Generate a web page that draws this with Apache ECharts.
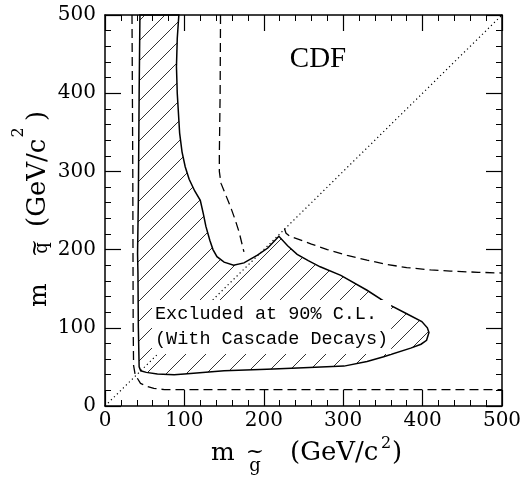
<!DOCTYPE html>
<html>
<head>
<meta charset="utf-8">
<script src="https://cdn.jsdelivr.net/npm/echarts@6/dist/echarts.min.js"></script>
<style>
  html, body { margin: 0; padding: 0; background: #fff; }
  #chart { width: 527px; height: 478px; }
</style>
</head>
<body>
<div id="chart"></div>
<script>
// gluino mass (x) vs squark mass (y), GeV/c^2
const axisMin = 0
const axisMax = 500
const axisStep = 100

// excluded region at 90% C.L., boundary walked round (solid line)
const exclX = [93, 91, 90, 91, 94, 97, 101, 106, 113, 120, 124, 127, 132, 136, 141, 150, 162, 175, 192, 205, 219,
  230, 242, 256, 271, 297, 330, 359, 380, 399, 406, 408, 405, 398, 385, 351, 330, 301, 250, 204, 150, 100, 87, 66, 52, 45,
  43, 42, 41.5, 41, 42, 43, 44]
const exclY = [500, 470, 434, 400, 349, 325, 306, 290, 275, 263, 245, 230, 212, 200, 191, 184, 180, 183, 193, 202, 217,
  205, 194, 186, 178, 167, 148, 129, 118, 108, 100, 94, 84, 79, 74, 63, 57, 51, 49, 47, 45, 41, 40, 41, 43, 45,
  50, 100, 170, 195, 263, 400, 500]

// dashed curves
const dashLeftX = [34, 35, 35.5, 36, 38, 44.7, 53, 61.5, 75, 500]
const dashLeftY = [500, 300, 100, 52, 40, 29, 25, 22.5, 21, 21]
const dashMidX = [145.5, 145, 144, 144, 146, 152, 158, 164, 169, 175]
const dashMidY = [500, 400, 320, 300, 285, 270, 255, 238, 222, 197]
const dashRightX = [226, 228, 233, 244, 260, 280, 305, 330, 355, 380, 410, 435, 470, 500]
const dashRightY = [227, 221, 217, 213, 207, 200, 192.5, 186.5, 181, 177, 174, 172.5, 171, 170]

// dotted diagonal m_g = m_q
const diagX = [0, 500]
const diagY = [0, 500]

const pairs = (xs, ys) => xs.map((x, i) => [x, ys[i]])

// hatch pattern
const makeHatch = () => {
  const c = document.createElement('canvas')
  c.width = 20
  c.height = 20
  const ctx = c.getContext('2d')
  ctx.strokeStyle = '#333'
  ctx.lineWidth = 1
  ctx.beginPath()
  ctx.moveTo(-2, 22); ctx.lineTo(22, -2)
  ctx.moveTo(-2, 2); ctx.lineTo(2, -2)
  ctx.moveTo(18, 22); ctx.lineTo(22, 18)
  ctx.stroke()
  return c
}
const hatch = { image: makeHatch(), repeat: 'repeat' }

const axisBase = {
  type: 'value',
  min: axisMin,
  max: axisMax,
  interval: axisStep,
  axisLine: { show: true, onZero: false, lineStyle: { color: '#000', width: 1.5 } },
  axisTick: { show: true, inside: true, length: 16, lineStyle: { color: '#000', width: 1.2 } },
  minorTick: { show: true, splitNumber: 5, length: 6, lineStyle: { color: '#000', width: 1 } },
  splitLine: { show: false },
  minorSplitLine: { show: false }
}
const labelStyle = { color: '#000', fontFamily: 'DejaVu Serif', fontSize: 20 }

const serif = 'DejaVu Serif'
const txt = (x, y, text, size, opts = {}) => ({
  type: 'text', x, y, z: 100, rotation: opts.rot || 0,
  style: {
    text, fill: '#000', fontFamily: opts.family || serif, fontSize: size,
    align: opts.align || 'left', verticalAlign: 'middle',
    textAlign: opts.align || 'left', textVerticalAlign: 'middle'
  }
})
const up = Math.PI / 2

const chart = echarts.init(document.getElementById('chart'))
chart.setOption({
  animation: false,
  backgroundColor: '#fff',
  grid: { left: 105, right: 25, top: 15, bottom: 72 },
  xAxis: [
    { ...axisBase, position: 'bottom', axisLabel: { ...labelStyle, margin: 5 } },
    { ...axisBase, position: 'top', axisLabel: { show: false } }
  ],
  yAxis: [
    { ...axisBase, position: 'left', axisLabel: { ...labelStyle, margin: 9 } },
    { ...axisBase, position: 'right', axisLabel: { show: false } }
  ],
  series: [
    {
      type: 'custom',
      silent: true,
      z: 3,
      data: [[0, 0]],
      renderItem: (params, api) => ({
        type: 'polygon',
        shape: { points: exclX.map((x, i) => api.coord([x, exclY[i]])) },
        style: { fill: hatch, stroke: '#000', lineWidth: 1.5 }
      })
    },
    {
      type: 'line', data: pairs(dashLeftX, dashLeftY), symbol: 'none', z: 4,
      lineStyle: { color: '#000', width: 1.3, type: [9, 5] }
    },
    {
      type: 'line', data: pairs(dashMidX, dashMidY), symbol: 'none', z: 4,
      lineStyle: { color: '#000', width: 1.3, type: [9, 5] }
    },
    {
      type: 'line', data: pairs(dashRightX, dashRightY), symbol: 'none', z: 4,
      lineStyle: { color: '#000', width: 1.3, type: [9, 5] }
    },
    {
      type: 'line', data: pairs(diagX, diagY), symbol: 'none', z: 4,
      lineStyle: { color: '#000', width: 1.2, type: [1.2, 3] }
    }
  ],
  graphic: [
    txt(318, 59, 'CDF', 29, { family: 'Liberation Serif', align: 'center' }),
    {
      type: 'text', x: 152, y: 300, z: 100,
      style: {
        text: 'Excluded at 90% C.L.\n(With Cascade Decays)',
        fill: '#000', fontFamily: 'Liberation Mono', fontSize: 18.5, lineHeight: 25,
        backgroundColor: '#fff', padding: [2, 3, 2, 3],
        align: 'left', verticalAlign: 'top', textAlign: 'left', textVerticalAlign: 'top'
      }
    },
    // x axis title: m_g~ (GeV/c^2)
    txt(211, 453, 'm', 25),
    txt(255, 452, '~', 22, { align: 'center' }),
    txt(255, 466, 'g', 18, { align: 'center' }),
    txt(290, 453.5, '(GeV/c', 26),
    txt(381, 444, '2', 16),
    txt(392, 453.5, ')', 26),
    // y axis title: m_q~ (GeV/c^2), reading upward
    txt(39.5, 307, 'm', 25, { rot: up }),
    txt(35, 248, '~', 22, { rot: up, align: 'center' }),
    txt(42.6, 248, 'q', 18, { rot: up, align: 'center' }),
    txt(38.2, 227, '(GeV/c', 26, { rot: up }),
    txt(19, 137.5, '2', 16, { rot: up }),
    txt(38.2, 121, ')', 26, { rot: up })
  ]
})
</script>
</body>
</html>
